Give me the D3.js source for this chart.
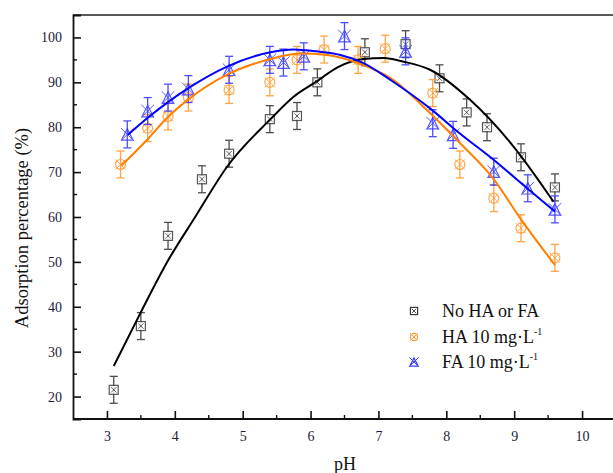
<!DOCTYPE html>
<html>
<head>
<meta charset="utf-8">
<script src="https://cdn.jsdelivr.net/npm/d3@7/dist/d3.min.js"></script>
<style>
  html, body { margin: 0; padding: 0; background: #fff; overflow: hidden; }
  svg { display: block; font-family: "Liberation Serif", "Times New Roman", serif; }
</style>
</head>
<body>
<svg id="chart" width="613" height="473"></svg>
<script>
// Measured adsorption (%) versus pH, three conditions
const phNone = [3.1, 3.5, 3.9, 4.4, 4.8, 5.4, 5.8, 6.1, 6.8, 7.4, 7.9, 8.3, 8.6, 9.1, 9.6];
const adsNone = [21.5, 35.7, 55.8, 68.4, 74.1, 81.8, 82.5, 90.0, 96.7, 98.5, 90.9, 83.3, 80.0, 73.3, 66.6];
const errNone = [3, 3, 3, 3, 3, 3, 3, 3, 3, 3, 3, 3, 3, 3, 3];

const phHA = [3.2, 3.6, 3.9, 4.2, 4.8, 5.4, 5.8, 6.2, 6.7, 7.1, 7.8, 8.2, 8.7, 9.1, 9.6];
const adsHA = [71.7, 79.8, 82.4, 86.6, 88.3, 90.0, 95.0, 97.3, 95.0, 97.5, 87.6, 71.7, 64.2, 57.5, 50.9];
const errHA = [3, 3, 3, 3, 3, 3, 3, 3, 3, 3, 3, 3, 3, 3, 3];

const phFA = [3.3, 3.6, 3.9, 4.2, 4.8, 5.4, 5.6, 5.9, 6.5, 7.4, 7.8, 8.1, 8.7, 9.2, 9.6];
const adsFA = [78.4, 83.6, 86.6, 88.5, 92.8, 95.0, 94.4, 95.8, 100.3, 96.9, 80.9, 78.3, 70.1, 66.4, 61.7];
const errFA = [3, 3, 3, 3, 3, 3, 3, 3, 3, 3, 3, 3, 3, 3, 3];

// Fitted trend curves
const fitNonePH = [3.1, 3.5, 3.9, 4.3, 4.77, 5.41, 5.75, 6.09, 6.39, 6.78, 7.08, 7.37, 7.76, 8.35, 8.99, 9.58];
const fitNone = [26.8, 38.8, 50.3, 60.0, 71.2, 81.8, 86.8, 90.2, 93.3, 95.2, 95.4, 94.6, 92.8, 86.1, 75.7, 63.4];
const fitHAPH = [3.21, 3.61, 3.88, 4.2, 4.77, 5.41, 5.85, 6.24, 6.7, 7.2, 7.77, 8.2, 8.7, 9.09, 9.6];
const fitHA = [71.4, 77.5, 82.0, 86.2, 91.7, 95.2, 96.4, 96.1, 94.3, 90.7, 83.0, 76.5, 68.4, 59.7, 49.3];
const fitFAPH = [3.31, 3.61, 3.91, 4.2, 4.77, 5.41, 5.75, 6.09, 6.44, 6.78, 7.2, 7.76, 8.2, 8.7, 9.19, 9.6];
const fitFA = [78.3, 82.2, 85.7, 88.7, 93.5, 96.7, 97.3, 96.9, 96.1, 94.3, 90.3, 84.2, 78.6, 72.7, 66.4, 61.2];

const xTicks = [3, 4, 5, 6, 7, 8, 9, 10];
const yTicks = [20, 30, 40, 50, 60, 70, 80, 90, 100];
const legendLabels = ["No HA or FA", "HA 10 mg·L", "FA 10 mg·L"];

const svg = d3.select("#chart");
const x = d3.scaleLinear().domain([2.5, 10.5]).range([73, 616]);
const y = d3.scaleLinear().domain([15, 105]).range([419, 15]);

const series = [
  { ph: phNone, v: adsNone, e: errNone, fx: fitNonePH, fy: fitNone, line: "#000", mark: "#3a3a3a", shape: "square" },
  { ph: phHA, v: adsHA, e: errHA, fx: fitHAPH, fy: fitHA, line: "#ff8000", mark: "#ff9a30", shape: "circle" },
  { ph: phFA, v: adsFA, e: errFA, fx: fitFAPH, fy: fitFA, line: "#0000ff", mark: "#3b3bff", shape: "tri" }
];

// Frame
svg.append("line").attr("x1", 73).attr("x2", 616).attr("y1", 15).attr("y2", 15)
  .attr("stroke", "#222").attr("stroke-width", 1.6);
svg.append("line").attr("x1", 616).attr("x2", 616).attr("y1", 15).attr("y2", 419)
  .attr("stroke", "#222").attr("stroke-width", 1.6);

// Axes with inward ticks
const xAxis = d3.axisBottom(x).tickValues(xTicks).tickSize(-8).tickPadding(12).tickFormat(d3.format("d"));
const gx = svg.append("g").attr("transform", "translate(0,419)").call(xAxis);
const yAxis = d3.axisLeft(y).tickValues(yTicks).tickSize(-8).tickPadding(11).tickFormat(d3.format("d"));
const gy = svg.append("g").attr("transform", "translate(73,0)").call(yAxis);
[gx, gy].forEach(g => {
  g.select(".domain").attr("stroke", "#111").attr("stroke-width", 1.8);
  g.selectAll(".tick line").attr("stroke", "#111").attr("stroke-width", 1.6);
  g.selectAll(".tick text").attr("fill", "#1c1c38").style("font-size", "14px")
    .style("font-family", "'Liberation Serif', serif");
});
gx.select(".domain").attr("d", "M73,0H616");

// Minor ticks
const xMinor = d3.range(3.5, 10.5, 1);
svg.append("g").selectAll("line").data(xMinor).join("line")
  .attr("x1", d => x(d)).attr("x2", d => x(d)).attr("y1", 419).attr("y2", 415)
  .attr("stroke", "#111").attr("stroke-width", 1.4);
const yMinor = d3.range(25, 105, 10);
svg.append("g").selectAll("line").data(yMinor).join("line")
  .attr("x1", 73).attr("x2", 77).attr("y1", d => y(d)).attr("y2", d => y(d))
  .attr("stroke", "#111").attr("stroke-width", 1.4);

// Axis titles
svg.append("text").attr("x", 345).attr("y", 470).attr("text-anchor", "middle")
  .style("font-size", "18px").attr("fill", "#111").text("pH");
svg.append("text").attr("transform", "translate(28,228) rotate(-90)").attr("text-anchor", "middle")
  .style("font-size", "18.5px").attr("fill", "#111").text("Adsorption percentage (%)");

function drawMarker(g, shape, color, s) {
  if (shape === "square") {
    g.append("rect").attr("x", -s).attr("y", -s).attr("width", 2 * s).attr("height", 2 * s)
      .attr("fill", "#fff").attr("stroke", color).attr("stroke-width", 1.2);
    g.append("path").attr("d", `M${-s * 0.6},${-s * 0.6}L${s * 0.6},${s * 0.6}M${s * 0.6},${-s * 0.6}L${-s * 0.6},${s * 0.6}`)
      .attr("stroke", color).attr("stroke-width", 0.9);
  } else if (shape === "circle") {
    g.append("circle").attr("r", s).attr("fill", "none").attr("stroke", color).attr("stroke-width", 1.2);
    g.append("path").attr("d", `M${-s},${-s}L${s},${s}M${s},${-s}L${-s},${s}`)
      .attr("stroke", color).attr("stroke-width", 1);
  } else {
    const h = s * 1.15;
    g.append("path").attr("d", `M0,${-h}L${h},${h}L${-h},${h}Z`)
      .attr("fill", "none").attr("stroke", color).attr("stroke-width", 1.2);
    g.append("path").attr("d", `M${-h * 1.1},${-h * 1.1}L${h * 1.1},${h * 1.1}M${h * 1.1},${-h * 1.1}L${-h * 1.1},${h * 1.1}`)
      .attr("stroke", color).attr("stroke-width", 1);
  }
}

// Error bars and markers
series.forEach(s => {
  const g = svg.append("g");
  s.ph.forEach((p, i) => {
    const cx = x(p), v = s.v[i], e = s.e[i];
    const bar = g.append("g").attr("stroke", s.mark).attr("stroke-width", 1.3).attr("opacity", 0.9);
    bar.append("line").attr("x1", cx).attr("x2", cx).attr("y1", y(v + e)).attr("y2", y(v - e));
    bar.append("line").attr("x1", cx - 4).attr("x2", cx + 4).attr("y1", y(v + e)).attr("y2", y(v + e));
    bar.append("line").attr("x1", cx - 4).attr("x2", cx + 4).attr("y1", y(v - e)).attr("y2", y(v - e));
    const m = g.append("g").attr("transform", `translate(${cx},${y(v)})`).attr("opacity", 0.85);
    drawMarker(m, s.shape, s.mark, s.shape === "square" ? 4.5 : 5);
  });
});

// Fitted curves
const line = d3.line().curve(d3.curveMonotoneX);
series.forEach(s => {
  svg.append("path")
    .attr("d", line(s.fx.map((p, i) => [x(p), y(s.fy[i])])))
    .attr("fill", "none").attr("stroke", s.line).attr("stroke-width", 2);
});

// Legend
const legendY = [311, 337, 362];
series.forEach((s, i) => {
  const m = svg.append("g").attr("transform", `translate(414,${legendY[i]})`);
  drawMarker(m, s.shape, s.mark, 3.6);
  const t = svg.append("text").attr("x", 442).attr("y", legendY[i] + 6)
    .style("font-size", "18px").attr("fill", "#111").text(legendLabels[i]);
  if (i > 0) {
    t.append("tspan").attr("dy", -8).style("font-size", "10px").text("-1");
  }
});
</script>
</body>
</html>
